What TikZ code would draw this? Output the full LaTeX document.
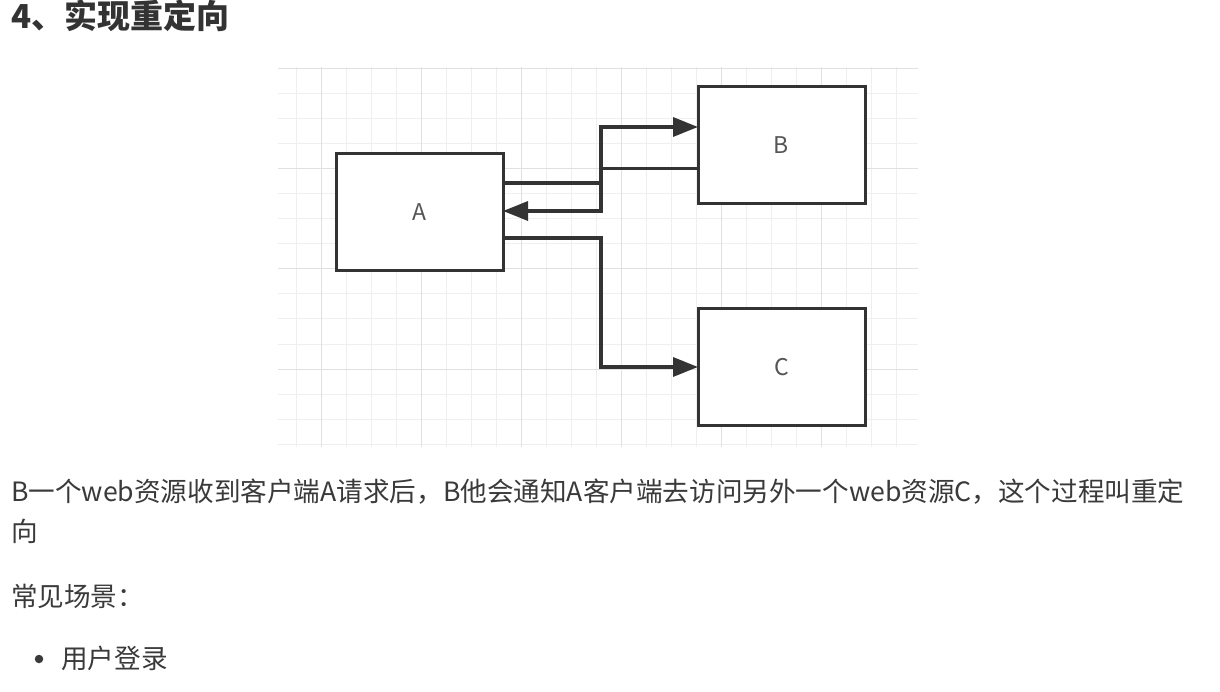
\documentclass[tikz,border=0pt]{standalone}
\usepackage{fontspec}
\setmainfont{Noto Sans CJK SC}
\usetikzlibrary{arrows.meta}
\definecolor{ink}{HTML}{333333}
\definecolor{txt}{HTML}{3A3A3A}
\definecolor{gridminor}{HTML}{EFEFEF}
\definecolor{gridmajor}{HTML}{E0E0E0}
\definecolor{lbl}{HTML}{555555}
\begin{document}
\begin{tikzpicture}[x=1pt,y=-1pt,
  boxnode/.style={draw=ink,line width=3pt,fill=white,rectangle,outer sep=0pt,inner sep=0pt,
    minimum width=167pt,minimum height=117pt,text=lbl,font=\fontsize{23}{27}\selectfont},
  conn/.style={draw=ink,line width=3.3pt},
  tip/.style={-{Triangle[length=25pt,width=19pt]}},
  bodytext/.style={anchor=base west,inner sep=0pt,text=txt,font=\fontsize{26.6}{30}\selectfont},
  minorline/.style={draw=gridminor,line width=1pt},
  majorline/.style={draw=gridmajor,line width=1pt}]
\useasboundingbox[fill=white] (0,0) rectangle (1220,692);
% grid
\foreach \y in {94,119,144,194,219,244,294,319,344,394,419,444}
  \draw[minorline] (278,\y) -- (918,\y);
\foreach \x in {296,346,371,396,446,471,496,546,571,596,646,671,696,746,771,796,846,871,896}
  \draw[minorline] (\x,67) -- (\x,447);
\foreach \y in {69,169,269,369}
  \draw[majorline] (278,\y) -- (918,\y);
\foreach \x in {321,421,521,621,721,821}
  \draw[majorline] (\x,67) -- (\x,447);
% title
\node[anchor=base west,inner sep=0pt,text=ink,font=\fontsize{33}{37}\selectfont\bfseries] (title) at (11,29) {4、实现重定向};
% boxes
\node[boxnode] (A) at (419.5,212) {A};
\node[boxnode] (B) at (781.5,145.5) {B};
\node[boxnode] (C) at (781.5,367) {C};
% connectors
\draw[conn,tip] ([yshift=29pt]A.east) -- ++(98,0) |- ([yshift=18.5pt]B.west);
\draw[conn,tip] ([yshift=-23pt]B.west) -- ++(-97,0) |- ([yshift=1pt]A.east);
\draw[conn,tip] ([yshift=-26pt]A.east) -- ++(98,0) |- (C.west);
% body text
\node[bodytext] (l1) at (11,501) {B一个web资源收到客户端A请求后，B他会通知A客户端去访问另外一个web资源C，这个过程叫重定};
\node[bodytext] (l2) at (11,541) {向};
\node[bodytext] (l3) at (11,606) {常见场景：};
\node[circle,fill=txt,inner sep=0pt,minimum size=8.5pt] (dot) at (39,659) {};
\node[bodytext] (l4) at (61,668) {用户登录};
\end{tikzpicture}
\end{document}
